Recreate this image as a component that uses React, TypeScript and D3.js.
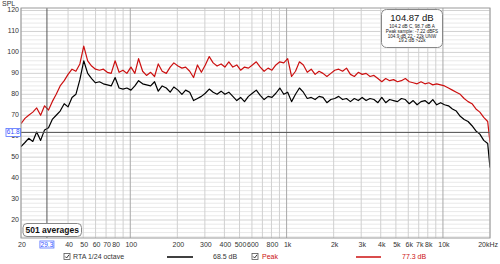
import React from "react";
import * as d3 from "d3";

const freqs = [20, 21.2, 22.4, 23.8, 25.2, 26.7, 28.3, 30, 31.7, 33.6, 35.6, 37.8, 40, 42.4, 44.9, 47.6, 50.4, 53.4, 56.6, 59.9, 63.5, 67.3, 71.3, 75.5, 80, 84.8, 89.8, 95.1, 101, 107, 113, 120, 127, 135, 143, 151, 160, 170, 180, 190, 202, 214, 226, 240, 254, 269, 285, 302, 320, 339, 359, 381, 403, 427, 453, 480, 508, 538, 570, 604, 640, 678, 718, 761, 806, 854, 905, 959, 1016, 1076, 1140, 1208, 1280, 1356, 1437, 1522, 1613, 1709, 1810, 1918, 2032, 2153, 2281, 2416, 2560, 2712, 2874, 3044, 3225, 3417, 3620, 3836, 4064, 4305, 4561, 4833, 5120, 5424, 5747, 6089, 6451, 6834, 7241, 7671, 8127, 8611, 9123, 9665, 10240, 10849, 11494, 12177, 12901, 13669, 14481, 15342, 16255, 17222, 18245, 19330, 20000];

const rta = [55, 57, 59, 57.5, 62, 58, 63, 64, 68, 70, 72, 75.5, 74, 78.5, 80, 87, 96, 90, 87.5, 85.5, 86, 85, 84.5, 84, 88, 83, 82.5, 83, 82, 84, 86.5, 85, 84.5, 84, 86, 81.5, 84, 83, 81, 83.5, 82, 80, 82, 81, 77, 78, 79, 80.5, 82.5, 81, 80, 81.5, 80, 81, 79, 77, 78.5, 76.5, 79, 80.5, 82, 79.5, 77.5, 79, 78.5, 80.5, 83, 80, 81, 76.5, 80, 83, 81, 78, 78.5, 77.5, 79, 78.5, 76, 77.5, 78, 79, 77.5, 78, 76.5, 78, 77, 78.5, 77, 78, 77.5, 76, 78.5, 76, 77.5, 77, 76.5, 78, 77.5, 75.5, 77, 75, 76.5, 77, 75.5, 77.5, 75, 76, 75, 74.5, 73, 72, 69.5, 68, 67, 65, 62.5, 61, 58, 56.5, 45];

const peak = [66, 68.5, 70, 71.5, 73.5, 70, 74.5, 72.5, 76.5, 80, 84, 86.5, 89.5, 92, 91, 94.5, 103, 96, 93.5, 92, 91.5, 92, 90.5, 90, 96, 90.5, 91.5, 90, 93, 90, 97, 91, 89, 90.5, 88.5, 94.5, 91, 90, 93, 95, 93.5, 92.5, 93, 91, 88, 94, 90.5, 94, 98, 95, 93.5, 94.5, 93, 95.5, 93, 94, 91.5, 93, 92.5, 94, 95.5, 93, 91, 92.5, 91.5, 94, 95.5, 95, 97, 88.5, 91, 95.5, 94, 90.5, 92, 89.5, 91, 90, 88.5, 90, 91.5, 92, 91, 92.5, 89.5, 88.5, 90.5, 89.5, 90, 88.5, 89, 87.5, 86, 87.5, 86.5, 87, 86, 86.5, 87.5, 86, 85.5, 85, 86, 85, 85.5, 84.5, 85, 84.5, 84, 83, 82, 81, 80, 78, 76.5, 75.5, 73, 71.5, 69, 67, 57];

const yTickValues = [20, 30, 40, 50, 60, 70, 80, 90, 100, 110, 120];
const xTickValues = [20, 40, 50, 60, 70, 80, 100, 200, 300, 400, 500, 600, 800, 1000, 2000, 3000, 4000, 5000, 6000, 7000, 8000, 10000];
const xTickLabels = ["20", "40", "50", "60", "70", "80", "100", "200", "300", "400", "500", "600", "800", "1k", "2k", "3k", "4k", "5k", "6k", "7k", "8k", "10k"];
const xGridValues = [90, 700, 900, 9000, 20000];
const decades = [100, 1000, 10000];
const cursorFreq = 29.3;
const cursorLevel = 61.8;
const infoTitle = "104.87 dB";
const infoLines = ["104.2 dB C, 98.7 dB A", "Peak sample: -7.22 dBFS", "104.9 dB 22 - 22k UNW", "19.2 dB >22k"];
const legendNames = ["RTA 1/24 octave", "Peak"];
const legendValues = ["68.5 dB", "77.3 dB"];

const W = 500, H = 264;
const L = 21, R = 490, T = 8, B = 238;
const FONT = "'Liberation Sans', Arial, sans-serif";

export default function App() {
  const x = d3.scaleLog().domain([20, 20000]).range([L, R]);
  const y = d3.scaleLinear().domain([11.4, 121.2]).range([B, T]);
  const line = d3.line<number>().x((_, i) => x(freqs[i])).y((d) => y(d));

  const minorY = d3.range(12, 122, 2).filter((v) => v % 10 !== 0);
  const allXGrid = [...xTickValues, ...xGridValues].filter((v) => !decades.includes(v));

  return (
    <svg width={W} height={H} style={{ position: "absolute", left: 0, top: 0, background: "#fff" }} fontFamily={FONT}>
      <defs>
        <clipPath id="plot">
          <rect x={L} y={T} width={R - L} height={B - T} />
        </clipPath>
      </defs>
      <rect x={L} y={T} width={R - L} height={B - T} fill="#fff" />
      {minorY.map((v) => (
        <line key={"my" + v} x1={L} x2={R} y1={y(v)} y2={y(v)} stroke="#e9e9e9" strokeWidth={1} />
      ))}
      {yTickValues.map((v) => (
        <line key={"y" + v} x1={L} x2={R} y1={y(v)} y2={y(v)} stroke="#d2d2d2" strokeWidth={1} />
      ))}
      {allXGrid.map((v) => (
        <line key={"x" + v} x1={x(v)} x2={x(v)} y1={T} y2={B} stroke="#d0d0d0" strokeWidth={1} />
      ))}
      {decades.map((v) => (
        <line key={"d" + v} x1={x(v)} x2={x(v)} y1={T} y2={B} stroke="#a8a8a8" strokeWidth={1} />
      ))}
      <g clipPath="url(#plot)">
        <path d={line(peak) || ""} fill="none" stroke="#cc1010" strokeWidth={1.2} strokeLinejoin="round" />
        <path d={line(rta) || ""} fill="none" stroke="#000" strokeWidth={1.2} strokeLinejoin="round" />
      </g>
      <line x1={L} x2={R} y1={y(cursorLevel)} y2={y(cursorLevel)} stroke="#555" strokeWidth={1} />
      <line x1={x(cursorFreq)} x2={x(cursorFreq)} y1={T} y2={B} stroke="#555" strokeWidth={1} />
      <rect x={L} y={T} width={R - L} height={B - T} fill="none" stroke="#9a9a9a" strokeWidth={1} />

      <text x={2} y={4} fontSize={7} fill="#333" dominantBaseline="middle">SPL</text>
      {yTickValues.map((v) => (
        <text key={"yl" + v} x={19} y={y(v)} fontSize={7} fill="#333" textAnchor="end" dominantBaseline="middle">{v}</text>
      ))}
      {xTickValues.map((v, i) => (
        <text key={"xl" + v} x={x(v) + 1} y={245} fontSize={7} fill="#333" textAnchor="middle" dominantBaseline="middle">{xTickLabels[i]}</text>
      ))}
      <text x={498} y={245} fontSize={7} fill="#333" textAnchor="end" dominantBaseline="middle">20kHz</text>

      <rect x={x(cursorFreq) - 7} y={241} width={14} height={7} fill="#fff" stroke="#5470ff" strokeWidth={0.8} />
      <text x={x(cursorFreq)} y={244.8} fontSize={6.5} fill="#3050ff" textAnchor="middle" dominantBaseline="middle">{cursorFreq}</text>
      <rect x={6} y={y(cursorLevel) - 4} width={14.5} height={8} fill="#fff" stroke="#5470ff" strokeWidth={0.8} />
      <text x={13.2} y={y(cursorLevel) + 0.3} fontSize={6.5} fill="#3050ff" textAnchor="middle" dominantBaseline="middle">{cursorLevel}</text>

      <rect x={23} y={223.5} width={58.5} height={13} rx={4} fill="#fff" stroke="#888" strokeWidth={1} />
      <text x={52.2} y={230.5} fontSize={8.5} fontWeight="bold" fill="#111" textAnchor="middle" dominantBaseline="middle">501 averages</text>

      <rect x={381.5} y={9.5} width={61} height={38} rx={5} fill="#fff" fillOpacity={0.9} stroke="#888" strokeWidth={1} />
      <text x={412} y={18.5} fontSize={9.5} fill="#111" textAnchor="middle" dominantBaseline="middle">{infoTitle}</text>
      {infoLines.map((t, i) => (
        <text key={"il" + i} x={412} y={27 + i * 4.7} fontSize={4.6} fill="#222" textAnchor="middle" dominantBaseline="middle">{t}</text>
      ))}

      <g>
        <rect x={64} y={253.5} width={6} height={6} fill="#fff" stroke="#555" strokeWidth={0.8} />
        <path d="M65.2,256.5 L66.6,258 L69,254.8" fill="none" stroke="#222" strokeWidth={0.9} />
        <text x={73} y={257} fontSize={7} fill="#333" dominantBaseline="middle">{legendNames[0]}</text>
        <line x1={167} x2={193} y1={257} y2={257} stroke="#000" strokeWidth={1.5} />
        <text x={213} y={257} fontSize={7} fill="#333" dominantBaseline="middle">{legendValues[0]}</text>
        <rect x={252} y={253.5} width={6} height={6} fill="#fff" stroke="#555" strokeWidth={0.8} />
        <path d="M253.2,256.5 L254.6,258 L257,254.8" fill="none" stroke="#222" strokeWidth={0.9} />
        <text x={262} y={257} fontSize={7} fill="#cc1010" dominantBaseline="middle">{legendNames[1]}</text>
        <line x1={356} x2={381} y1={257} y2={257} stroke="#cc1010" strokeWidth={1.5} />
        <text x={402} y={257} fontSize={7} fill="#cc1010" dominantBaseline="middle">{legendValues[1]}</text>
      </g>
    </svg>
  );
}
